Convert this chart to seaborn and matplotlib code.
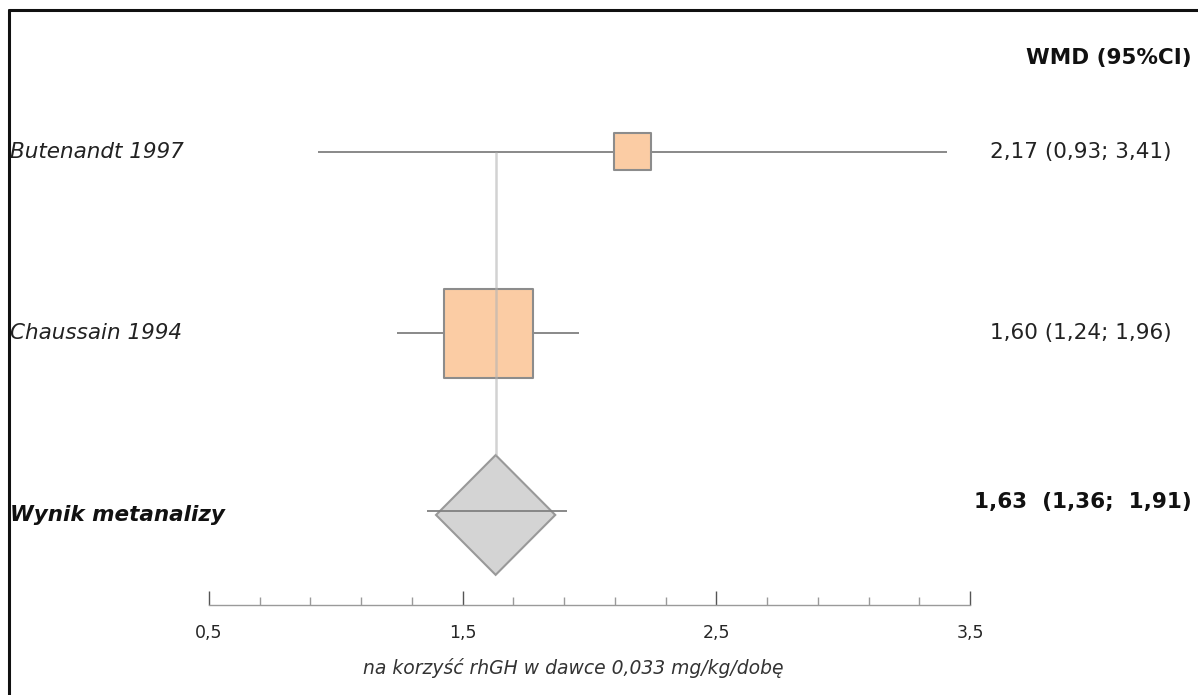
import numpy as np
import pandas as pd
import matplotlib.pyplot as plt
import seaborn as sns
from matplotlib.patches import Polygon
from matplotlib.lines import Line2D
from matplotlib.transforms import blended_transform_factory

sns.set_theme(style='white')
plt.rcParams['font.family'] = ['DejaVu Sans']

# Data
studies = ['Butenandt 1997', 'Chaussain 1994']
wmd = [2.17, 1.60]
ci_low = [0.93, 1.24]
ci_high = [3.41, 1.96]
weights = [14.7, 85.3]
pooled_label = 'Wynik metanalizy'
pooled = 1.63
pooled_low = 1.36
pooled_high = 1.91
tick_values = [0.5, 1.5, 2.5, 3.5]
tick_labels = ['0,5', '1,5', '2,5', '3,5']

def fmt(v):
    return f'{v:.2f}'.replace('.', ',')

df = pd.DataFrame({'study': studies, 'wmd': wmd, 'low': ci_low, 'high': ci_high, 'weight': weights})
df['row'] = np.arange(len(df))
pooled_row = len(df)

W, H = 1198, 695
fig = plt.figure(figsize=(W / 100, H / 100), dpi=100)
ax = fig.add_axes([209 / W, (H - 605) / H, (970 - 209) / W, (605 - 10) / H])
ax.set_xlim(0.5, 3.5)
ax.set_ylim(2.496, -0.782)

# confidence intervals
ax.hlines(df['row'], df['low'], df['high'], color='#808080', linewidth=1.3, zorder=2)

# study squares, area proportional to weight
sns.scatterplot(data=df, x='wmd', y='row', marker='s', s=df['weight'] * 48.1,
                color='#fbcca4', edgecolor='#8c8c8c', linewidth=1.5, legend=False, ax=ax, zorder=3)

# vertical line at pooled estimate
ax.vlines(pooled, 0, pooled_row - 0.33, color='#b4b4b4', linewidth=1.8, alpha=0.6, zorder=4)

# pooled diamond
hw, hh = 0.235, 0.33
diamond = Polygon([(pooled - hw, pooled_row), (pooled, pooled_row - hh),
                   (pooled + hw, pooled_row), (pooled, pooled_row + hh)],
                  closed=True, facecolor='#d4d4d4', edgecolor='#999999', linewidth=1.5, zorder=3)
ax.add_patch(diamond)
ax.hlines(pooled_row - 0.02, pooled_low, pooled_high, color='#808080', linewidth=1.3, zorder=4)

# axis styling
for s in ['top', 'left', 'right']:
    ax.spines[s].set_visible(False)
ax.spines['bottom'].set_color('#9a9a9a')
ax.spines['bottom'].set_linewidth(1)
ax.set_yticks([])
ax.set_xticks(tick_values)
ax.set_xticklabels(tick_labels, fontsize=12.5)
ax.set_xticks(np.arange(0.5, 3.51, 0.2), minor=True)
ax.tick_params(axis='x', which='major', direction='in', length=10, width=1, color='#555555', pad=14, bottom=True)
ax.tick_params(axis='x', which='minor', direction='in', length=6, width=1, color='#9a9a9a', bottom=True)
ax.set_xlabel('')
ax.set_ylabel('')
ax.patch.set_alpha(0)

# text columns
trans = blended_transform_factory(fig.transFigure, ax.transData)
for _, r in df.iterrows():
    ax.text(10 / W, r['row'], r['study'], transform=trans, ha='left', va='center',
            fontsize=15.5, style='italic', color='#222222')
    ax.text(1172 / W, r['row'], f"{fmt(r['wmd'])} ({fmt(r['low'])}; {fmt(r['high'])})",
            transform=trans, ha='right', va='center', fontsize=15.5, color='#222222')
ax.text(10 / W, pooled_row, pooled_label, transform=trans, ha='left', va='center',
        fontsize=15.5, style='italic', fontweight='bold', color='#111111')
ax.text(1192 / W, pooled_row - 0.07, f'{fmt(pooled)}  ({fmt(pooled_low)};  {fmt(pooled_high)})',
        transform=trans, ha='right', va='center', fontsize=15.5, fontweight='bold', color='#111111')
fig.text(1192 / W, 1 - 58 / H, 'WMD (95%CI)', ha='right', va='center', fontsize=15.5,
         fontweight='bold', color='#111111')

fig.text(573 / W, 1 - 668 / H, 'na korzyść rhGH w dawce 0,033 mg/kg/dobę', ha='center', va='center',
         fontsize=13.5, style='italic', color='#333333')

# frame lines (top and left only)
fig.add_artist(Line2D([9 / W, 1], [1 - 10 / H, 1 - 10 / H], color='#111111', linewidth=2.2, transform=fig.transFigure))
fig.add_artist(Line2D([9 / W, 9 / W], [0, 1 - 10 / H], color='#111111', linewidth=2.2, transform=fig.transFigure))

fig.savefig('out.png', dpi=100, facecolor='white')
